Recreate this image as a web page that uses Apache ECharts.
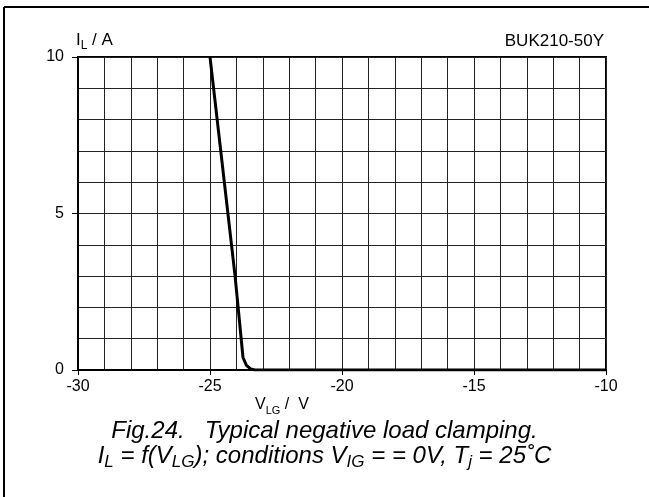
<!DOCTYPE html>
<html>
<head>
<meta charset="utf-8">
<script src="https://cdn.jsdelivr.net/npm/echarts@6/dist/echarts.min.js"></script>
<style>
  html, body { margin: 0; padding: 0; background: #fff; }
  #chart { width: 649px; height: 497px; }
</style>
</head>
<body>
<div id="chart"></div>
<script>
// Load-to-ground voltage (V) and load current (A) along the clamping curve
const vlg = [-25.0, -24.05, -23.75, -23.62, -23.45, -23.3, -10.0];
const il  = [10.0,   3.0,    0.4,    0.15,   0.03,   0.0,   0.0];

// Axis ranges and labelled tick steps
const xRange = [-30, -10];
const yRange = [0, 10];
const xMajor = 5;
const yMajor = 5;

const FONT = "'Liberation Sans', Arial, sans-serif";

const curve = vlg.map((v, i) => [v, il[i]]);

const chart = echarts.init(document.getElementById('chart'), null, { renderer: 'canvas' });

function subRich(size, italic, subScale) {
  const style = italic ? 'italic' : 'normal';
  const sub = Math.round(size * (subScale || 0.68));
  return {
    n: { fontSize: size, fontFamily: FONT, fontStyle: style, lineHeight: size + 6, verticalAlign: 'middle' },
    s: { fontSize: sub, fontFamily: FONT, fontStyle: style, lineHeight: sub, verticalAlign: 'bottom' }
  };
}

chart.setOption({
  animation: false,
  backgroundColor: '#fff',
  grid: {
    left: 78, right: 43, top: 57, bottom: 127,
    show: true, borderColor: '#000', borderWidth: 2, backgroundColor: 'transparent'
  },
  xAxis: {
    type: 'value',
    min: xRange[0], max: xRange[1], interval: xMajor,
    axisLine: { show: true, onZero: false, lineStyle: { color: '#000', width: 2 } },
    axisTick: { show: true, inside: false, length: 5, lineStyle: { color: '#000', width: 1 } },
    axisLabel: { color: '#000', fontSize: 16, fontFamily: FONT, margin: 9 },
    splitLine: { show: true, lineStyle: { color: '#222', width: 1 } },
    minorTick: { show: false, splitNumber: 5 },
    minorSplitLine: { show: true, lineStyle: { color: '#222', width: 1 } }
  },
  yAxis: {
    type: 'value',
    min: yRange[0], max: yRange[1], interval: yMajor,
    axisLine: { show: true, lineStyle: { color: '#000', width: 2 } },
    axisTick: { show: true, inside: false, length: 6, lineStyle: { color: '#000', width: 1 } },
    axisLabel: { color: '#000', fontSize: 16, fontFamily: FONT, margin: 14 },
    splitLine: { show: true, lineStyle: { color: '#222', width: 1 } },
    minorTick: { show: false, splitNumber: 5 },
    minorSplitLine: { show: true, lineStyle: { color: '#222', width: 1 } }
  },
  series: [{
    type: 'line',
    data: curve,
    showSymbol: false,
    smooth: false,
    lineStyle: { color: '#000', width: 3 },
    z: 5
  }],
  graphic: [
    // outer frame (top and left edges)
    { type: 'line', shape: { x1: 4, y1: 7, x2: 649, y2: 7 }, style: { stroke: '#000', lineWidth: 2 } },
    { type: 'line', shape: { x1: 4, y1: 7, x2: 4, y2: 497 }, style: { stroke: '#000', lineWidth: 2 } },
    // y-axis quantity
    { type: 'text', left: 76, top: 32, style: {
        text: '{n|I}{s|L}{n| / A}', rich: subRich(17, false), fill: '#000' } },
    // device name
    { type: 'text', right: 45, top: 33, style: {
        text: 'BUK210-50Y', font: '17px ' + FONT, fill: '#000' } },
    // x-axis quantity
    { type: 'text', left: 255, top: 397, style: {
        text: '{n|V}{s|LG}{n| /  V}', rich: subRich(16, false), fill: '#000' } },
    // caption
    { type: 'text', left: 'center', top: 419, style: {
        text: 'Fig.24.   Typical negative load clamping.', font: 'italic 24px ' + FONT, fill: '#000' } },
    { type: 'text', left: 'center', top: 444, style: {
        text: '{n|I}{s|L}{n| = f(V}{s|LG}{n|); conditions V}{s|IG}{n| = = 0V, T}{s|j}{n| = 25˚C}',
        rich: subRich(24, true, 0.7), fill: '#000' } }
  ]
});
</script>
</body>
</html>
